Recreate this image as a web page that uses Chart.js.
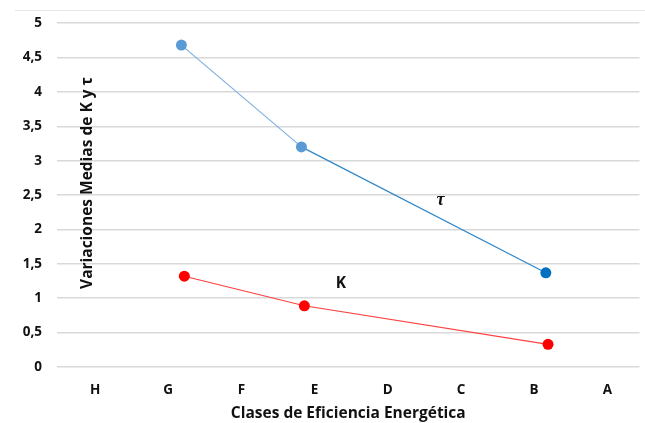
<!DOCTYPE html>
<html>
<head>
<meta charset="utf-8">
<script src="https://cdn.jsdelivr.net/npm/chart.js@4.4.1/dist/chart.umd.min.js"></script>
<style>
  body { margin: 0; background: #fff; }
  canvas { display: block; }
</style>
</head>
<body>
<canvas id="canvas" width="645" height="423"></canvas>
<script>
var CLASES = ['H', 'G', 'F', 'E', 'D', 'C', 'B', 'A'];
// x positions (category index units)
var TAU_X = [1.18, 2.82, 6.16];
var TAU_Y = [4.68, 3.20, 1.37];
var K_X = [1.22, 2.86, 6.19];
var K_Y = [1.32, 0.89, 0.33];
var Y_TICKS = [0, 0.5, 1, 1.5, 2, 2.5, 3, 3.5, 4, 4.5, 5];

function pts(xs, ys) {
  return xs.map(function (x, i) { return { x: x, y: ys[i] }; });
}

var FONT = '"Open Sans", sans-serif';

var labelsPlugin = {
  id: 'labels',
  afterDraw: function (chart) {
    var c = chart.ctx;
    var xs = chart.scales.x, ys = chart.scales.y;
    var area = chart.chartArea;
    c.save();
    // faint outer border line at top
    c.strokeStyle = '#e6e6e6';
    c.lineWidth = 1;
    c.beginPath();
    c.moveTo(15, 10.5);
    c.lineTo(645, 10.5);
    c.stroke();

    c.fillStyle = '#111';
    c.textAlign = 'center';
    c.textBaseline = 'middle';
    // series labels
    c.font = 'italic bold 18px "Liberation Serif", serif';
    c.fillText('τ', xs.getPixelForValue(4.72), ys.getPixelForValue(2.42));
    c.font = 'bold 15.5px ' + FONT;
    c.fillText('K', xs.getPixelForValue(3.36), ys.getPixelForValue(1.21));

    // y axis title drawn inside the plot area
    c.translate(area.left + 31, 183);
    c.rotate(-Math.PI / 2);
    c.font = 'bold 15.5px ' + FONT;
    c.fillText('Variaciones Medias de K y τ', 0, 0);
    c.restore();
  }
};

window.onload = function () {
  var ctx = document.getElementById('canvas').getContext('2d');
  window.myChart = new Chart(ctx, {
    type: 'scatter',
    data: {
      datasets: [{
        label: 'τ',
        data: pts(TAU_X, TAU_Y),
        showLine: true,
        borderWidth: 1.2,
        borderColor: '#5b9bd5',
        segment: {
          borderColor: function (s) { return s.p0DataIndex === 0 ? '#7fb0e0' : '#2f86c8'; }
        },
        pointRadius: 5.5,
        pointBorderWidth: 0,
        pointBackgroundColor: ['#5b9bd5', '#5b9bd5', '#0070c0']
      }, {
        label: 'K',
        data: pts(K_X, K_Y),
        showLine: true,
        borderWidth: 1.2,
        borderColor: '#ff4040',
        pointRadius: 5.5,
        pointBorderWidth: 0,
        pointBackgroundColor: '#ff0000'
      }]
    },
    options: {
      responsive: false,
      animation: false,
      layout: { padding: { top: 0, right: 0, bottom: 0, left: 0 } },
      plugins: {
        legend: { display: false },
        tooltip: { enabled: false }
      },
      scales: {
        x: {
          type: 'linear',
          min: -0.52,
          max: 7.44,
          afterBuildTicks: function (scale) {
            scale.ticks = CLASES.map(function (c, i) { return { value: i }; });
          },
          afterFit: function (scale) { scale.height = 56; },
          grid: { display: false, drawTicks: false },
          border: { display: false },
          ticks: {
            padding: 15,
            autoSkip: false,
            maxRotation: 0,
            color: '#111',
            font: { family: FONT, size: 13.5, weight: 'bold' },
            callback: function (v) { return CLASES[v]; }
          },
          title: {
            display: true,
            text: 'Clases de Eficiencia Energética',
            color: '#111',
            padding: { top: 0, bottom: 0 },
            font: { family: FONT, size: 15.5, weight: 'bold' }
          }
        },
        y: {
          min: 0,
          max: 5,
          afterBuildTicks: function (scale) {
            scale.ticks = Y_TICKS.map(function (v) { return { value: v }; });
          },
          afterFit: function (scale) { scale.width = 57; },
          grid: { color: '#d9d9d9', lineWidth: 1.5, drawTicks: false },
          border: { display: false },
          ticks: {
            padding: 15,
            color: '#111',
            font: { family: FONT, size: 13.5, weight: 'bold' },
            callback: function (v) { return String(v).replace('.', ','); }
          }
        }
      }
    },
    plugins: [labelsPlugin]
  });
};
</script>
</body>
</html>
